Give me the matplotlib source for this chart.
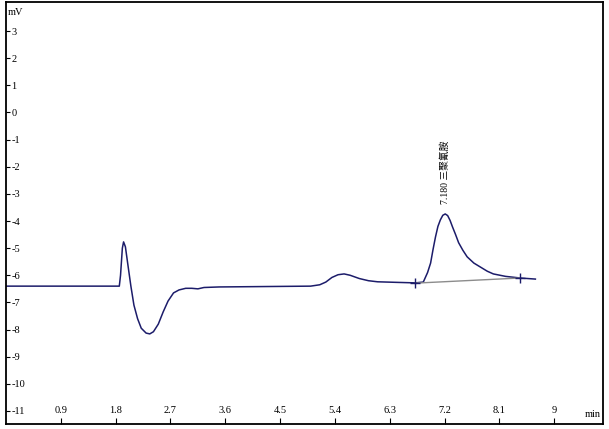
import matplotlib
matplotlib.use("Agg")
import matplotlib.pyplot as plt

time_min = [0.0, 1.86, 1.88, 1.91, 1.93, 1.96, 2.00, 2.05, 2.10, 2.16, 2.22, 2.30, 2.36,
            2.42, 2.50, 2.58, 2.66, 2.75, 2.84, 2.95, 3.05, 3.15, 3.25, 3.5, 4.0, 4.5,
            5.0, 5.15, 5.25, 5.35, 5.45, 5.55, 5.65, 5.8, 5.95, 6.1, 6.4, 6.72, 6.85,
            6.92, 6.97, 7.01, 7.05, 7.09, 7.13, 7.17, 7.21, 7.25, 7.29, 7.33, 7.38,
            7.43, 7.50, 7.57, 7.68, 7.79, 7.9, 8.0, 8.2, 8.44, 8.69]
signal_mv = [-6.40, -6.40, -6.0, -5.0, -4.77, -4.95, -5.6, -6.4, -7.1, -7.6, -7.95, -8.13, -8.16,
             -8.08, -7.8, -7.35, -6.95, -6.65, -6.54, -6.48, -6.48, -6.50, -6.45, -6.43, -6.42, -6.41,
             -6.40, -6.35, -6.25, -6.08, -5.98, -5.95, -6.00, -6.12, -6.2, -6.24, -6.26, -6.28, -6.25,
             -5.9, -5.55, -5.05, -4.59, -4.2, -3.96, -3.79, -3.74, -3.8, -3.98, -4.22, -4.5,
             -4.8, -5.08, -5.32, -5.55, -5.7, -5.85, -5.95, -6.04, -6.1, -6.14]

baseline_t = [6.72, 8.44]
baseline_v = [-6.29, -6.10]

peak_t = 7.21
peak_v = -3.74
peak_label = "7.180 三聚氰胺"

xticks = [0.9, 1.8, 2.7, 3.6, 4.5, 5.4, 6.3, 7.2, 8.1, 9]
xtick_labels = ["0.9", "1.8", "2.7", "3.6", "4.5", "5.4", "6.3", "7.2", "8.1", "9"]
yticks = list(range(-11, 4))

plt.rcParams['font.family'] = ['Liberation Serif', 'Noto Sans CJK SC']

fig = plt.figure(figsize=(6.09, 4.29), dpi=100)
ax = fig.add_axes([6/609, 5/429, 597/609, 422/429])

ax.plot(time_min, signal_mv, color='#1c1c6a', lw=1.1)
ax.plot(baseline_t, baseline_v, color='#8c8c8c', lw=1.0)
ax.plot(baseline_t, baseline_v, ls='none', marker='+', color='#1c1c6a', ms=7, mew=1.0)

ax.set_xlim(0.0, 9.8)
ax.set_ylim(-11.48, 4.07)

ax.set_xticks(xticks)
ax.set_xticklabels(xtick_labels)
ax.set_yticks(yticks)
ax.set_yticklabels([str(v) for v in yticks])

ax.tick_params(axis='x', direction='in', length=4, width=0.8, pad=-13, labelsize=7.5)
ax.tick_params(axis='y', direction='in', length=3, width=0.8, pad=-4, labelsize=7.5)
for lbl in ax.get_yticklabels():
    lbl.set_horizontalalignment('left')

for s in ax.spines.values():
    s.set_linewidth(1.3)
    s.set_color('black')

ax.text(0.003, 0.985, "mV", transform=ax.transAxes, ha='left', va='top', fontsize=7.5)
ax.text(0.997, 0.012, "min", transform=ax.transAxes, ha='right', va='bottom', fontsize=7.5)

ax.annotate(peak_label, xy=(peak_t, peak_v), xytext=(0, 7), textcoords='offset points',
            rotation=90, ha='center', va='bottom', fontsize=7)

fig.savefig("out.png", dpi=100)
